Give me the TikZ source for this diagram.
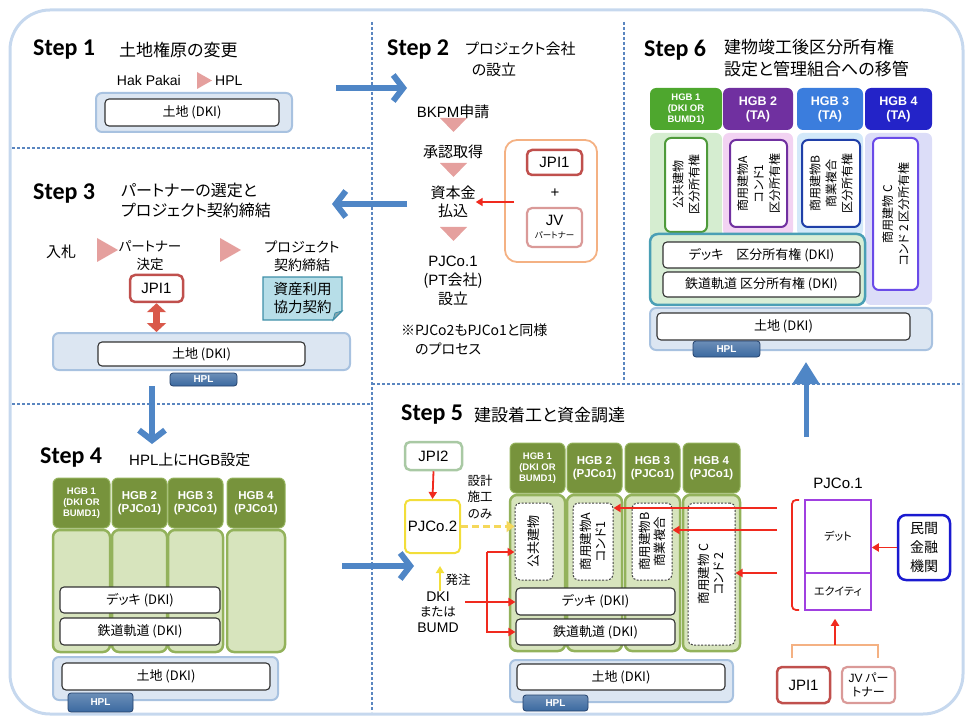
\documentclass[tikz,border=0pt]{standalone}
\usepackage{fontspec}
\setmainfont{Noto Sans CJK JP}[RawFeature=+palt]
\newfontfamily\lib{Liberation Sans}
\newfontfamily\stepf{Carlito}
\usetikzlibrary{arrows.meta,shapes.geometric,calc}
\newcommand\myfs[2]{\fontsize{#1}{#2}\selectfont}
\newcommand\mybx[7]{%
  \pgfmathsetmacro\bxw{#5-#3}%
  \pgfmathsetmacro\bxh{#6-#4}%
  \node[align=center,#1,minimum width=\bxw pt,minimum height=\bxh pt,inner sep=0pt] (#2) at ({(#3+#5)/2},{(#4+#6)/2}) {#7};}
\definecolor{frameblue}{HTML}{C6D8EE}
\definecolor{divblue}{HTML}{5A86C0}
\definecolor{bigblue}{HTML}{4F86C6}
\definecolor{pinktri}{HTML}{E5A09E}
\definecolor{redline}{HTML}{F02A1E}
\definecolor{jpired}{HTML}{C0504D}
\definecolor{jvpink}{HTML}{DA9A98}
\definecolor{orangeb}{HTML}{F4B183}
\definecolor{landfill}{HTML}{DCE6F2}
\definecolor{landdraw}{HTML}{A8C2E0}
\definecolor{hplfill}{HTML}{3B69A0}
\definecolor{hpldraw}{HTML}{23416B}
\definecolor{hgbhead}{HTML}{77933C}
\definecolor{hgbbody}{HTML}{D7E4BD}
\definecolor{hgbdraw}{HTML}{93B25B}
\definecolor{notefill}{HTML}{B7DEE8}
\definecolor{notedraw}{HTML}{3E8FA8}
\definecolor{dblred}{HTML}{D9584A}
\definecolor{jpitwo}{HTML}{A9C9A4}
\definecolor{yel}{HTML}{F2DE3A}
\definecolor{yeld}{HTML}{F5D85A}
\definecolor{purp}{HTML}{A040E0}
\definecolor{bankblue}{HTML}{1A1AD0}
\definecolor{gsix}{HTML}{4EA72E}
\definecolor{psix}{HTML}{7030A0}
\definecolor{bsix}{HTML}{3B7DDD}
\definecolor{dsix}{HTML}{2323C8}
\definecolor{gsixl}{HTML}{D5EDD0}
\definecolor{psixl}{HTML}{F2D3F2}
\definecolor{bsixl}{HTML}{D3E9F9}
\definecolor{dsixl}{HTML}{DCDDF8}
\definecolor{deckfill}{HTML}{D8EED6}
\definecolor{deckdraw}{HTML}{4A9FB5}
\definecolor{gsixb}{HTML}{4E9A3A}
\definecolor{bsixb}{HTML}{1F3FA8}
\definecolor{dsixb}{HTML}{6A4BE8}
\tikzset{
 frame/.style={draw=frameblue,line width=3pt,rounded corners=40pt},
 divider/.style={draw=divblue,line width=1.1pt,dash pattern=on 3pt off 2pt},
 bigarrow/.style={draw=bigblue,line width=6pt,-{Straight Barb[length=10pt,width=26pt]}},
 bigtri/.style={draw=bigblue,line width=5pt,-{Triangle[length=22pt,width=26pt]}},
 steptitle/.style={font=\stepf\bfseries\myfs{24}{26},anchor=west,inner sep=0pt},
 jt/.style={font=\myfs{15}{19},inner sep=0pt,align=center},
 lt/.style={font=\myfs{15}{18},anchor=west,inner sep=0pt},
 landouter/.style={draw=landdraw,fill=landfill,line width=2pt,rounded corners=6pt},
 landinner/.style={draw=black!80,fill=white,line width=1.1pt,rounded corners=4pt,font=\myfs{13}{15}},
 hpltab/.style={draw=hpldraw,top color=hplfill!75!white,bottom color=hplfill,rounded corners=3pt,line width=0.8pt,text=white,font=\lib\bfseries\myfs{10}{12}},
 redarrow/.style={draw=redline,line width=1.8pt,-{Triangle[length=7pt,width=8pt]}},
 redline/.style={draw=redline,line width=1.8pt},
 orangebox/.style={draw=orangeb,line width=1.8pt,rounded corners=12pt},
 jpibox/.style={draw=jpired,line width=2.5pt,rounded corners=5pt,fill=white,font=\lib\myfs{15}{17}},
 jvbox/.style={draw=jvpink,line width=2.2pt,rounded corners=5pt,fill=white,font=\myfs{15}{13}},
 notebox/.style={fill=notefill,font=\myfs{14.5}{18}},
 dblarrow/.style={draw=dblred,line width=7pt,{Triangle[length=9pt,width=19pt]}-{Triangle[length=9pt,width=19pt]}},
 hgbh/.style={fill=hgbhead,draw=hgbdraw,line width=1pt,rounded corners=6pt,text=white,font=\lib\bfseries\myfs{11.5}{13}},
 hgbhs/.style={hgbh,font=\lib\bfseries\myfs{9.5}{11}},
 hgbb/.style={fill=hgbbody,draw=hgbdraw,line width=2.5pt,rounded corners=7pt},
 whitebox/.style={draw=black!80,fill=white,line width=1.1pt,rounded corners=4pt,font=\myfs{13}{15}},
 dashbox/.style={draw=black!75,fill=white,line width=1pt,dash pattern=on 2pt off 1.5pt,rounded corners=5pt},
 rottext/.style={rotate=90,align=center,inner sep=0pt,font=\myfs{12.5}{15}},
 rotsix/.style={rotate=90,align=center,inner sep=0pt,font=\myfs{12}{16}},
 yelarrow/.style={draw=yeld,line width=3pt,dash pattern=on 7pt off 4pt,-{Triangle[length=8pt,width=11pt]}},
 yelup/.style={draw=yel,line width=2pt,-{Triangle[length=7pt,width=8pt]}},
 sixhead/.style={draw=none,rounded corners=6pt,text=white,font=\lib\bfseries\myfs{12.5}{14}},
 sixbox/.style={fill=white,line width=2pt,rounded corners=6pt},
}
\begin{document}
\begin{tikzpicture}[x=1pt,y=-1pt]
\useasboundingbox (0,0) rectangle (969,719);
\draw[frame] (10,10) rectangle (963,714);
% dividers
\draw[divider] (372,22) -- (372,712);
\draw[divider] (624,22) -- (624,380);
\draw[divider] (12,148) -- (372,148);
\draw[divider] (12,404) -- (372,404);
\draw[divider] (372,384) -- (962,384);

% ---------------- Step 1
\node[steptitle] (s1) at (33,50) {Step 1};
\node[lt,font=\myfs{17}{20}] (s1t) at (119,50) {土地権原の変更};
\node[font=\lib\myfs{14}{16},anchor=east,inner sep=0pt] (hak) at (181,80) {Hak Pakai};
\fill[pinktri] (197,72) -- (212,80.5) -- (197,89) -- cycle;
\node[font=\lib\myfs{14}{16},anchor=west,inner sep=0pt] (hplone) at (215,81) {HPL};
\mybx{landouter}{l1o}{96}{93}{292}{132}{}
\mybx{landinner}{l1i}{105}{99}{279}{126}{土地 (DKI)}
\coordinate (a1s) at (336,88); \coordinate (a1e) at (407,88);
\draw[bigarrow] (a1s) -- (a1e);

% ---------------- Step 2
\node[steptitle] (s2) at (387,50) {Step 2};
\node[lt] (s2t1) at (465,49) {プロジェクト会社};
\node[font=\myfs{15}{18},inner sep=0pt] (s2t2) at (494,70) {の設立};
\node[jt] (bkpm) at (453,112) {{\lib BKPM}申請};
\fill[pinktri] (440,118) -- (467,118) -- (453.5,132) -- cycle;
\node[jt] (shonin) at (453,152) {承認取得};
\fill[pinktri] (440,163) -- (467,163) -- (453.5,177) -- cycle;
\node[jt,font=\myfs{15}{18}] (cap) at (453,202) {資本金\\払込};
\fill[pinktri] (440,227) -- (467,227) -- (453.5,241) -- cycle;
\node[jt] (pjset) at (453,281) {{\lib PJCo.1}\\({\lib PT}会社)\\設立};
\node[lt,font=\myfs{14}{17}] (notea) at (401,330) {※PJCo2もPJCo1と同様};
\node[lt,font=\myfs{14}{17}] (noteb) at (415,349) {のプロセス};
\mybx{orangebox}{org}{505}{140}{597}{262}{}
\mybx{jpibox}{jpia}{527}{150}{582}{175}{JPI1}
\node[font=\lib\myfs{15}{17},inner sep=0pt] (plus) at (555,193) {+};
\mybx{jvbox}{jva}{527}{208}{582}{247}{{\lib JV}\\{\myfs{8.5}{10}パートナー}}
\draw[redarrow] ([xshift=10pt]org.west |- cap.east) -- (cap.east);
\coordinate (a2s) at (407,204); \coordinate (a2e) at (332,204);
\draw[bigarrow] (a2s) -- (a2e);

% ---------------- Step 3
\node[steptitle] (s3) at (33,194) {Step 3};
\node[lt,font=\myfs{16}{20}] (s3t1) at (121,190) {パートナーの選定と};
\node[lt,font=\myfs{16}{20}] (s3t2) at (121,210) {プロジェクト契約締結};
\node[jt] (nyu) at (61,252) {入札};
\fill[pinktri] (97,238) -- (118,250) -- (97,262) -- cycle;
\node[jt,font=\myfs{13.5}{18}] (pdec) at (150,256) {パートナー\\決定};
\fill[pinktri] (220,238) -- (241,250) -- (220,262) -- cycle;
\node[jt,font=\myfs{14}{18}] (pcon) at (302,256) {プロジェクト\\契約締結};
\mybx{jpibox}{jpib}{130}{275}{183}{302}{JPI1}
\mybx{notebox}{note}{263}{277}{342}{320}{資産利用\\協力契約}
\fill[white] (332,321.5) -- (343.5,321.5) -- (343.5,310) -- cycle;
\draw[notedraw,line width=1.2pt] (263,277) -- (342,277) -- (342,311) -- (333,320) -- (263,320) -- cycle;
\filldraw[fill=notefill!75!black,draw=notedraw,line width=0.8pt] (333,320) -- (335,313) -- (342,311) -- cycle;
\mybx{landouter}{l3o}{53}{333}{350}{370}{}
\mybx{landinner}{l3i}{98}{342}{305}{366}{土地 (DKI)}
\mybx{hpltab}{h3}{170}{373}{237}{386}{HPL}
\draw[dblarrow] (jpib.south) -- (jpib.south |- l3o.north);
\coordinate (a3s) at (152,386); \coordinate (a3e) at (152,444);
\draw[bigarrow] (a3s) -- (a3e);

% ---------------- Step 4
\node[steptitle] (s4) at (40,458) {Step 4};
\node[lt,font=\myfs{15}{17}] (s4t) at (129,460) {{\lib HPL}上に{\lib HGB}設定};
\mybx{hgbb}{b4a}{53}{530}{110}{652}{}
\mybx{hgbb}{b4b}{112}{530}{167}{652}{}
\mybx{hgbb}{b4c}{168}{530}{223}{652}{}
\mybx{hgbb}{b4d}{227}{530}{285}{652}{}
\mybx{hgbhs}{h4a}{53}{478}{110}{528}{HGB 1\\(DKI OR\\BUMD1)}
\mybx{hgbh}{h4b}{112}{478}{167}{528}{HGB 2\\(PJCo1)}
\mybx{hgbh}{h4c}{168}{478}{223}{528}{HGB 3\\(PJCo1)}
\mybx{hgbh}{h4d}{227}{478}{285}{528}{HGB 4\\(PJCo1)}
\mybx{whitebox}{deckf}{60}{587}{220}{613}{デッキ (DKI)}
\mybx{whitebox}{railf}{60}{618}{220}{645}{鉄道軌道 (DKI)}
\mybx{landouter}{l4o}{53}{657}{278}{700}{}
\mybx{landinner}{l4i}{62}{663}{270}{690}{土地 (DKI)}
\mybx{hpltab}{h4}{68}{693}{133}{712}{HPL}
\coordinate (a4s) at (342,566); \coordinate (a4e) at (414,566);
\draw[bigarrow] (a4s) -- (a4e);

% ---------------- Step 5
\node[steptitle] (s5) at (401,415) {Step 5};
\node[lt,font=\myfs{17}{20}] (s5t) at (474,415) {建設着工と資金調達};
\mybx{jpibox,draw=jpitwo}{jpitw}{405}{442}{462}{470}{JPI2}
\mybx{jpibox,draw=yel,line width=2pt}{pjtwo}{405}{500}{460}{553}{PJCo.2}
\node[jt,font=\myfs{12.5}{16.5}] (sekkei) at (480,497) {設計\\施工\\のみ};
\node[jt,font=\myfs{12.5}{15}] (hatchu) at (458,580) {発注};
\node[jt,font=\lib\myfs{14}{15.5}] (dki) at (438,612) {DKI\\{\myfs{12.5}{15.5}\rmfamily または}\\BUMD};
\mybx{hgbb}{b5a}{510}{495}{565}{651}{}
\mybx{hgbb}{b5b}{567}{495}{622}{651}{}
\mybx{hgbb}{b5c}{625}{495}{680}{651}{}
\mybx{hgbb}{b5d}{683}{495}{740}{651}{}
\mybx{hgbhs}{h5a}{510}{443}{565}{493}{HGB 1\\(DKI OR\\BUMD1)}
\mybx{hgbh}{h5b}{567}{443}{622}{493}{HGB 2\\(PJCo1)}
\mybx{hgbh}{h5c}{625}{443}{680}{493}{HGB 3\\(PJCo1)}
\mybx{hgbh}{h5d}{683}{443}{740}{493}{HGB 4\\(PJCo1)}
\mybx{dashbox}{c1in}{515}{503}{553}{580}{}
\mybx{dashbox}{c2in}{573}{503}{613}{580}{}
\mybx{dashbox}{c3in}{632}{503}{672}{580}{}
\mybx{dashbox}{c4in}{688}{503}{735}{645}{}
\node[rottext,font=\myfs{13}{15}] (t5a) at (c1in.center) {公共建物};
\node[rottext] (t5b) at (c2in.center) {商用建物A\\コンド1};
\node[rottext] (t5c) at (c3in.center) {商用建物B\\商業複合};
\node[rottext] (t5d) at (c4in.center) {商用建物 C\\コンド 2};
\mybx{whitebox}{deckv}{516}{588}{675}{615}{デッキ (DKI)}
\mybx{whitebox}{railv}{516}{619}{675}{645}{鉄道軌道 (DKI)}
\mybx{landouter}{l5o}{510}{660}{733}{702}{}
\mybx{landinner}{l5i}{517}{664}{725}{690}{土地 (DKI)}
\mybx{hpltab}{h5}{523}{695}{588}{711}{HPL}
% PJCo.1 side
\node[font=\lib\myfs{15}{17},inner sep=0pt] (pjcone) at (838,483) {PJCo.1};
\mybx{draw=purp,line width=1.5pt,font=\myfs{11}{13}}{debt}{805}{500}{871}{573}{デット}
\mybx{draw=purp,line width=1.5pt,font=\myfs{11}{13}}{equity}{805}{573}{871}{610}{エクイティ}
\mybx{draw=bankblue,line width=2.5pt,rounded corners=8pt,font=\myfs{14}{19}}{bank}{898}{515}{950}{580}{民間\\金融\\機関}
\mybx{jpibox}{jpic}{777}{667}{830}{703}{JPI1}
\mybx{jvbox,font=\myfs{12}{14}}{jvc}{842}{667}{895}{703}{{\lib JV} パー\\トナー}
\draw[redline,rounded corners=4pt] (799,500) -- (792,500) -- (792,610) -- (799,610);
\draw[draw=orangeb,line width=1.8pt] (792,658) -- (792,645) -- (878,645) -- (878,658);
\coordinate (ob) at (835,645);
\draw[redarrow] (ob) -- ([yshift=-8pt]equity.south -| ob);
\draw[redarrow] (bank.west) -- (debt.east |- bank.west);
\coordinate (ra) at (777,508); \coordinate (rb) at (777,530); \coordinate (rc) at (777,573);
\draw[redarrow] (ra) -- (c2in.east |- ra);
\draw[redarrow] (rb) -- (c3in.east |- rb);
\draw[redarrow] (rc) -- (c4in.east |- rc);
% left side arrows of step 5
\draw[redarrow] (jpitw.south) -- (pjtwo.north);
\draw[yelarrow] (pjtwo.east) -- (c1in.west |- pjtwo.east);
\coordinate (up) at (440,566);
\draw[yelup] (dki.north -| up) -- (up);
\coordinate (rd) at (465,602);
\draw[redarrow] (rd) -- (deckv.west |- rd);
\coordinate (rv) at (487,552);
\draw[redarrow] (rv) -- (c1in.west |- rv);
\draw[redarrow] (rv) -- (rv |- railv.west) -- (railv.west);
\coordinate (a5s) at (806,437); \coordinate (a5e) at (806,362);
\draw[bigtri] (a5s) -- (a5e);

% ---------------- Step 6
\node[steptitle] (s6) at (644,50) {Step 6};
\node[lt,font=\myfs{17}{20}] (s6t1) at (724,47) {建物竣工後区分所有権};
\node[lt,font=\myfs{17}{20}] (s6t2) at (724,69) {設定と管理組合への移管};
\mybx{fill=gsixl,rounded corners=6pt}{b6a}{650}{133}{722}{305}{}
\mybx{fill=psixl,rounded corners=6pt}{b6b}{723}{133}{793}{236}{}
\mybx{fill=bsixl,rounded corners=6pt}{b6c}{797}{133}{863}{236}{}
\mybx{fill=dsixl,rounded corners=6pt}{b6d}{865}{133}{932}{305}{}
\mybx{sixhead,fill=gsix,font=\lib\bfseries\myfs{9.5}{11}}{h6a}{650}{88}{722}{130}{HGB 1\\(DKI OR\\BUMD1)}
\mybx{sixhead,fill=psix}{h6b}{723}{88}{793}{130}{HGB 2\\(TA)}
\mybx{sixhead,fill=bsix}{h6c}{797}{88}{863}{130}{HGB 3\\(TA)}
\mybx{sixhead,fill=dsix}{h6d}{865}{88}{932}{130}{HGB 4\\(TA)}
\mybx{sixbox,draw=gsixb}{i6a}{665}{138}{707}{232}{}
\mybx{sixbox,draw=psix}{i6b}{730}{140}{787}{227}{}
\mybx{sixbox,draw=bsixb}{i6c}{802}{140}{860}{227}{}
\mybx{sixbox,draw=dsixb}{i6d}{873}{138}{918}{290}{}
\node[rotsix] (t6a) at (i6a.center) {公共建物\\区分所有権};
\node[rotsix] (t6b) at (i6b.center) {商用建物A\\コンド1\\区分所有権};
\node[rotsix] (t6c) at (i6c.center) {商用建物B\\商業複合\\区分所有権};
\node[rotsix] (t6d) at (i6d.center) {商用建物 C\\コンド 2 区分所有権};
\mybx{fill=deckfill,draw=deckdraw,line width=2.5pt,rounded corners=8pt}{deckgrp}{650}{234}{865}{305}{}
\mybx{whitebox}{decks}{663}{242}{860}{268}{デッキ　区分所有権 (DKI)}
\mybx{whitebox}{rails}{663}{272}{860}{297}{鉄道軌道 区分所有権 (DKI)}
\mybx{landouter}{l6o}{650}{308}{932}{350}{}
\mybx{landinner}{l6i}{657}{313}{910}{340}{土地 (DKI)}
\mybx{hpltab}{h6}{693}{341}{760}{357}{HPL}
\end{tikzpicture}
\end{document}
